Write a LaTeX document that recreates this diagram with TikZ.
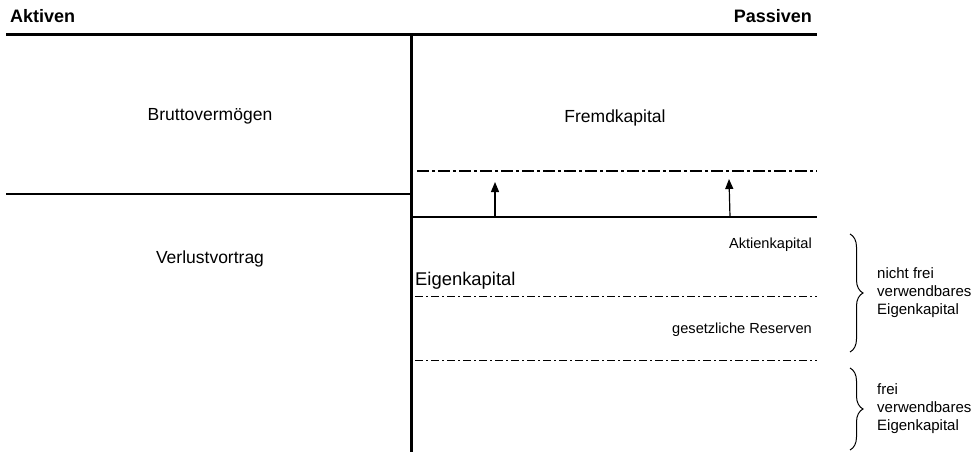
\documentclass[tikz,border=0pt]{standalone}
\usepackage{fontspec}
\setmainfont{Liberation Sans}
\usetikzlibrary{decorations.pathreplacing,arrows.meta}
\begin{document}
\begin{tikzpicture}[x=1pt,y=-1pt,
  head/.style={font=\fontsize{18}{21}\selectfont\bfseries, inner sep=0pt},
  big/.style={font=\fontsize{17.5}{20}\selectfont, inner sep=0pt},
  bigger/.style={font=\fontsize{18.4}{21}\selectfont, inner sep=0pt},
  small/.style={font=\fontsize{14.6}{17}\selectfont, inner sep=0pt},
  side/.style={font=\fontsize{15}{18}\selectfont, inner sep=0pt, align=left, anchor=west},
  thickrule/.style={line width=3pt},
  midrule/.style={line width=2pt},
  thinrule/.style={line width=1.5pt},
  dashbold/.style={line width=2.6pt, dash pattern=on 12pt off 3pt on 3pt off 3pt},
  dashthin/.style={line width=1pt, dash pattern=on 8pt off 3pt on 2pt off 3pt},
  uparrow/.style={line width=1.2pt, -{Triangle[length=10pt,width=8pt]}},
  bracestyle/.style={line width=1pt, decorate, decoration={brace, amplitude=13pt}}
]
\useasboundingbox (0,0) rectangle (979,455);

% headings
\node[head, anchor=base west] (akt) at (10,22) {Aktiven};
\node[head, anchor=base east] (pas) at (812,22) {Passiven};

% rules
\coordinate (topL) at (6,34);
\coordinate (topR) at (817,34);
\draw[thickrule] (topL) -- (topR);
\coordinate (vT) at (411.5,34);
\coordinate (vB) at (411.5,452);
\draw[thickrule] (vT) -- (vB);
\coordinate (lhL) at (6,194);
\coordinate (lhR) at (411,194);
\draw[thinrule] (lhL) -- (lhR);
\coordinate (fkL) at (411,217);
\coordinate (fkR) at (817,217);
\draw[midrule] (fkL) -- (fkR);
\coordinate (ddL) at (417,171);
\coordinate (ddR) at (817,171);
\draw[dashbold] (ddL) -- (ddR);
\coordinate (d1L) at (415,296);
\coordinate (d1R) at (817,296);
\draw[dashthin] (d1L) -- (d1R);
\coordinate (d2L) at (415,360);
\coordinate (d2R) at (817,360);
\draw[dashthin] (d2L) -- (d2R);

% arrows
\coordinate (a1s) at (495,217);
\coordinate (a1e) at (495,182);
\coordinate (a2s) at (730,217);
\coordinate (a2e) at (729,179);
\draw[uparrow] (a1s) -- (a1e);
\draw[uparrow] (a2s) -- (a2e);

% labels
\node[big, anchor=base] (brutto) at (210,120) {Bruttovermögen};
\node[big, anchor=base] (fremd) at (615,122) {Fremdkapital};
\node[big, anchor=base] (verlust) at (210,263) {Verlustvortrag};
\node[small, anchor=base east] (aktien) at (812,248) {Aktienkapital};
\node[bigger, anchor=base west] (eigen) at (415,285) {Eigenkapital};
\node[small, anchor=base east] (reserven) at (812,333) {gesetzliche Reserven};

% braces
\coordinate (b1T) at (850,234);
\coordinate (b1B) at (850,352);
\draw[bracestyle] (b1T) -- (b1B);
\coordinate (b2T) at (850,368);
\coordinate (b2B) at (850,450);
\draw[bracestyle] (b2T) -- (b2B);

\node[side] (nf) at (877,293) {nicht frei\\verwendbares\\Eigenkapital};
\node[side] (fr) at (877,409) {frei\\verwendbares\\Eigenkapital};
\end{tikzpicture}
\end{document}
